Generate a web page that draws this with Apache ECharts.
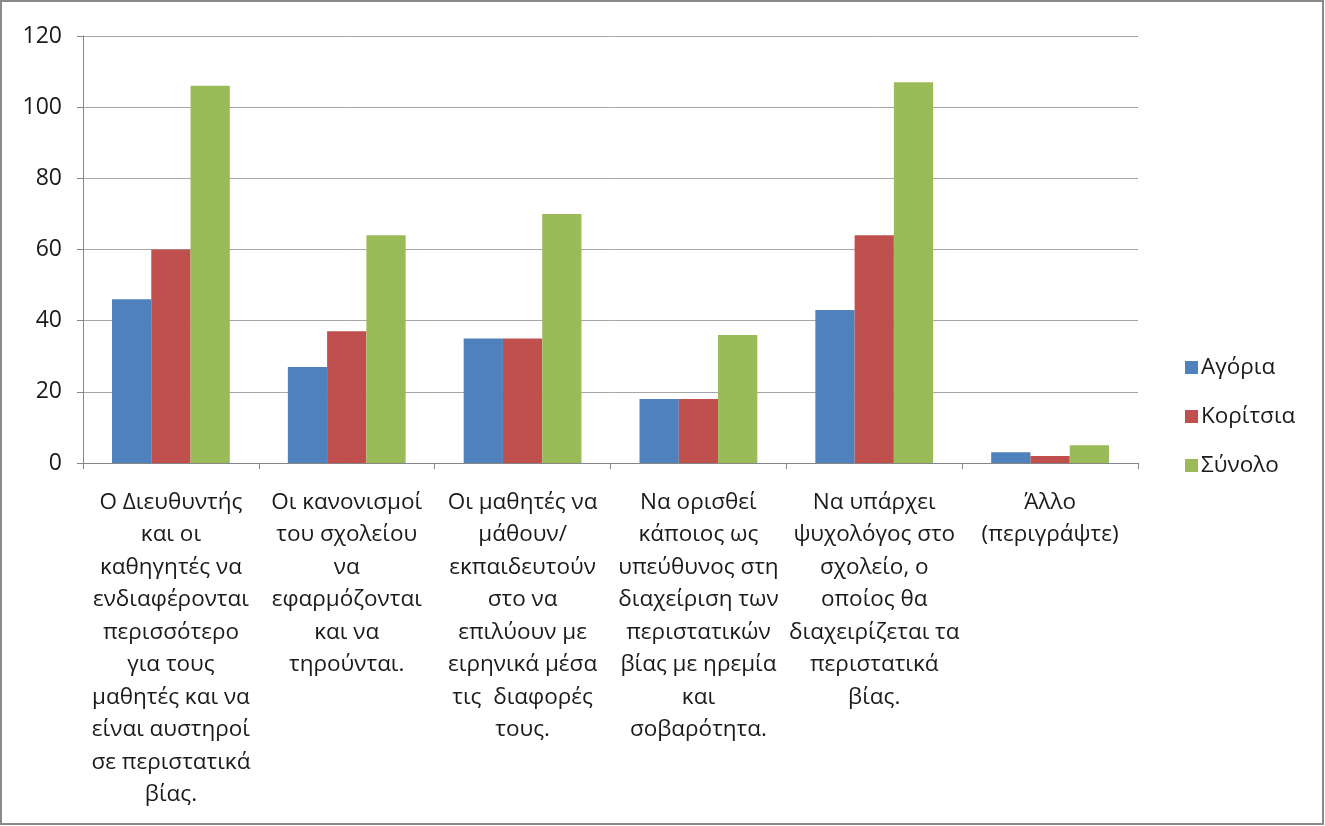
<!DOCTYPE html>
<html>
<head>
<meta charset="utf-8">
<script src="https://cdn.jsdelivr.net/npm/echarts@6/dist/echarts.min.js"></script>
<style>
html,body{margin:0;padding:0;background:#fff;}
#chart{width:1325px;height:826px;}
</style>
</head>
<body>
<div id="chart"></div>
<script>
const categories = [
  "Ο Διευθυντής\nκαι οι\nκαθηγητές να\nενδιαφέρονται\nπερισσότερο\nγια τους\nμαθητές και να\nείναι αυστηροί\nσε περιστατικά\nβίας.",
  "Οι κανονισμοί\nτου σχολείου\nνα\nεφαρμόζονται\nκαι να\nτηρούνται.",
  "Οι μαθητές να\nμάθουν/\nεκπαιδευτούν\nστο να\nεπιλύουν με\nειρηνικά μέσα\nτις  διαφορές\nτους.",
  "Να ορισθεί\nκάποιος ως\nυπεύθυνος στη\nδιαχείριση των\nπεριστατικών\nβίας με ηρεμία\nκαι\nσοβαρότητα.",
  "Να υπάρχει\nψυχολόγος στο\nσχολείο, ο\nοποίος θα\nδιαχειρίζεται τα\nπεριστατικά\nβίας.",
  "Άλλο\n(περιγράψτε)"
];
const seriesNames = ["Αγόρια", "Κορίτσια", "Σύνολο"];
const agoria = [46, 27, 35, 18, 43, 3];
const koritsia = [60, 37, 35, 18, 64, 2];
const synolo = [106, 64, 70, 36, 107, 5];
const colors = ["#4F81BD", "#C0504D", "#9BBB59"];

const chart = echarts.init(document.getElementById('chart'));
const font = "'Open Sans', 'Noto Sans', sans-serif";
const values = [agoria, koritsia, synolo];
chart.setOption({
  animation: false,
  textStyle: {fontFamily: font},
  graphic: [{
    type: 'rect',
    shape: {x: 1, y: 1, width: 1322, height: 823},
    style: {fill: 'none', stroke: '#8a8a8a', lineWidth: 2},
    silent: true
  }],
  grid: {left: 83, right: 187, top: 36, bottom: 363},
  legend: {
    orient: 'vertical',
    left: 1180,
    top: 351,
    itemWidth: 13,
    itemHeight: 13,
    itemGap: 26,
    icon: 'rect',
    textStyle: {fontSize: 22.5, color: '#1a1a1a', fontFamily: font, padding: [0,0,0,-2]},
    data: seriesNames
  },
  xAxis: {
    type: 'category',
    data: categories,
    axisLine: {lineStyle: {color: '#868686', width: 1}},
    axisTick: {show: true, length: 6, lineStyle: {color: '#868686'}},
    axisLabel: {
      interval: 0,
      fontSize: 22.5,
      lineHeight: 32.5,
      color: '#1a1a1a',
      margin: 23,
      fontFamily: font,
      align: 'center'
    }
  },
  yAxis: {
    type: 'value',
    min: 0, max: 120, interval: 20,
    axisLine: {show: true, lineStyle: {color: '#868686'}},
    axisTick: {show: true, length: 6, lineStyle: {color: '#868686'}},
    splitLine: {lineStyle: {color: '#a6a6a6', width: 1}},
    axisLabel: {fontSize: 23, color: '#1a1a1a', margin: 21, fontFamily: font}
  },
  series: seriesNames.map((n, i) => ({
    name: n,
    type: 'bar',
    data: values[i],
    barGap: '0%',
    barCategoryGap: '33%',
    itemStyle: {color: colors[i]}
  }))
});
</script>
</body>
</html>
